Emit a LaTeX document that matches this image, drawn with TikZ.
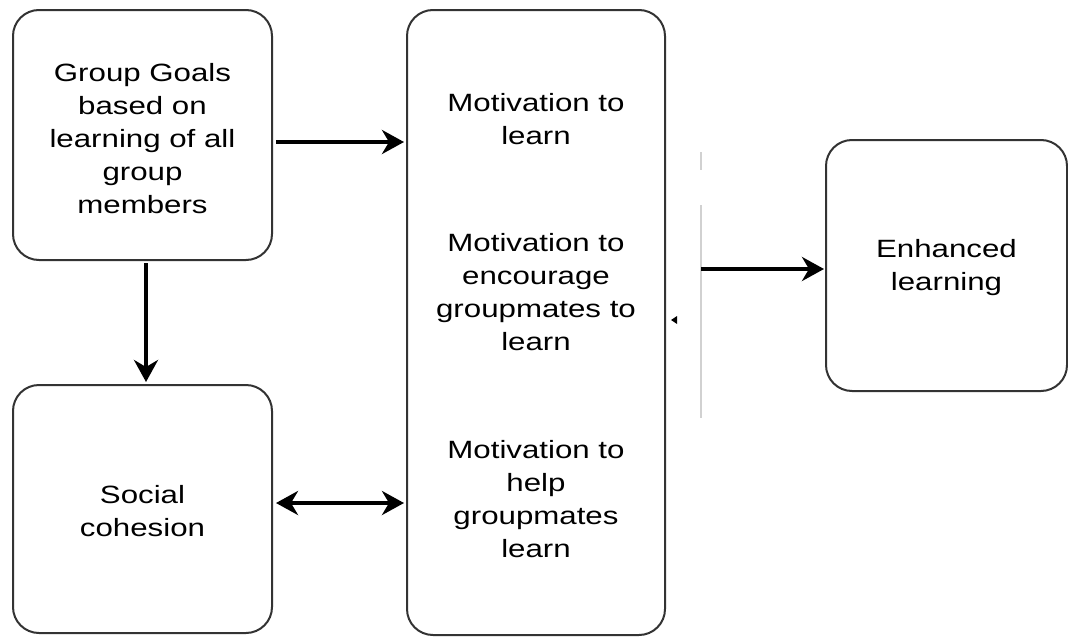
\documentclass[tikz,border=0pt]{standalone}
\usepackage{fontspec}
\setmainfont{Liberation Sans}
\usetikzlibrary{arrows.meta}
\newcommand\wx[1]{\scalebox{1.25}[1]{#1}}
\tikzset{
  box/.style={draw=black!80, line width=2pt, rounded corners=26pt, fill=white, inner sep=0pt},
  lbl/.style={align=center, font=\fontsize{25}{33}\selectfont, inner sep=0pt},
  tip/.style={Stealth[length=22pt,width=24pt,inset=7pt]},
  arr/.style={line width=4pt, -{Stealth[length=22pt,width=24pt,inset=7pt]}},
  darr/.style={line width=4pt, {Stealth[length=22pt,width=24pt,inset=7pt]}-{Stealth[length=22pt,width=24pt,inset=7pt]}},
  faint/.style={draw=black!18, line width=1.5pt}
}
\begin{document}
\begin{tikzpicture}[x=1pt,y=-1pt]
\useasboundingbox (0,0) rectangle (1068,637);
% boxes
\node[box, minimum width=259pt, minimum height=250pt] (A) at (142.5,135) {};
\node[box, minimum width=259pt, minimum height=248pt] (B) at (142.5,509) {};
\node[box, minimum width=258pt, minimum height=625pt] (M) at (536,322.5) {};
\node[box, minimum width=241pt, minimum height=251pt] (E) at (946.5,265.5) {};
% texts
\node[lbl] (tA) at (142.5,139) {\wx{Group Goals}\\\wx{based on}\\\wx{learning of all}\\\wx{group}\\\wx{members}};
\node[lbl] (tB) at (142.5,511) {\wx{Social}\\\wx{cohesion}};
\node[lbl] (tM1) at (536,119) {\wx{Motivation to}\\\wx{learn}};
\node[lbl] (tM2) at (536,292) {\wx{Motivation to}\\\wx{encourage}\\\wx{groupmates to}\\\wx{learn}};
\node[lbl] (tM3) at (536,499) {\wx{Motivation to}\\\wx{help}\\\wx{groupmates}\\\wx{learn}};
\node[lbl] (tE) at (946.5,268) {\wx{Enhanced}\\\wx{learning}};
% faint vertical line
\coordinate (g1) at (701,152);
\coordinate (g2) at (701,170);
\coordinate (g3) at (701,205);
\coordinate (g4) at (701,418);
\coordinate (g) at (701,269);
\draw[faint] (g1) -- (g2);
\draw[faint] (g3) -- (g4);
% connectors
\draw[arr, shorten <=3pt, shorten >=2pt] ([yshift=-7pt]A.east) -- ([yshift=180.5pt]M.west);
\draw[arr, shorten <=2pt, shorten >=2pt] ([xshift=3.5pt]A.south) -- ([xshift=3.5pt]B.north);
\draw[darr, shorten <=3pt, shorten >=2pt] ([yshift=6pt]B.east) -- ([yshift=-180.5pt]M.west);
\draw[arr, shorten >=1pt] (g) -- ([yshift=-3.5pt]E.west);
% small arrowhead artifact
\coordinate (t) at (671,320);
\fill (t) -- ++(6,-4) -- ++(0,8) -- cycle;
\end{tikzpicture}
\end{document}
